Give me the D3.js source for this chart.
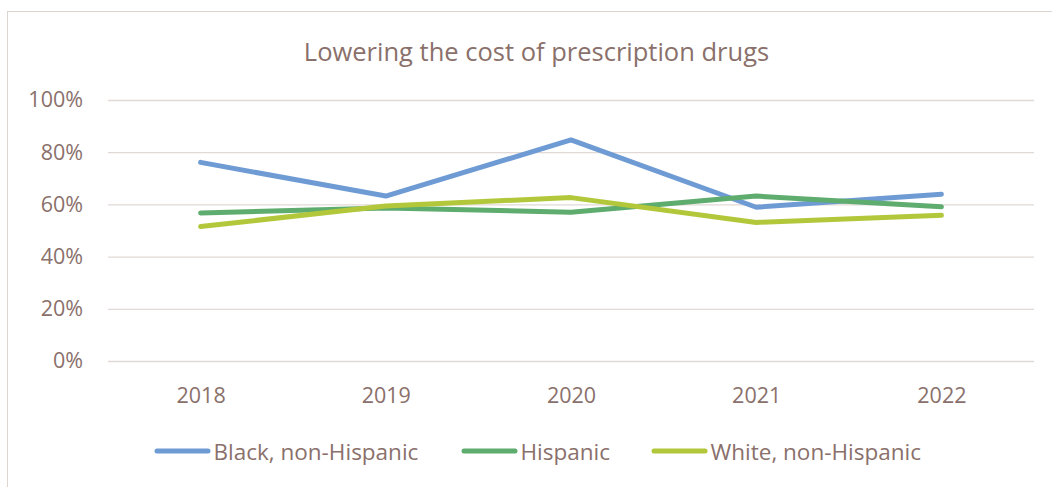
<!DOCTYPE html>
<html>
<head>
<meta charset="utf-8">
<script src="https://cdn.jsdelivr.net/npm/d3@7"></script>
<style>
  html, body { margin: 0; padding: 0; background: #ffffff; overflow: hidden; }
  svg { display: block; }
  text { font-family: "Open Sans", "Noto Sans", sans-serif; fill: #8a706b; }
</style>
</head>
<body>
<div id="chart"></div>
<script>
// Survey years on the x axis
const years = ["2018", "2019", "2020", "2021", "2022"];

// Share (%) by group per year
const black = [76.1, 63.2, 84.7, 58.9, 63.9];
const hispanic = [56.7, 58.6, 57.0, 63.2, 59.1];
const white = [51.5, 59.4, 62.6, 53.1, 55.8];

const seriesNames = ["Black, non-Hispanic", "Hispanic", "White, non-Hispanic"];
const seriesColors = ["#6f9bd4", "#5fac6f", "#b2c83a"];

// Y-axis ticks
const yTicks = [0, 20, 40, 60, 80, 100];

const title = "Lowering the cost of prescription drugs";

const W = 1052, H = 487;
const plot = { left: 108, right: 1034, top: 100, bottom: 361 };
const FONT = '"Open Sans", "Noto Sans", sans-serif';

const svg = d3.select("#chart").append("svg")
  .attr("width", W).attr("height", H);

// chart frame (right and bottom edges run past the canvas)
svg.append("rect")
  .attr("x", 7.5).attr("y", 11.5)
  .attr("width", 1100).attr("height", 600)
  .attr("fill", "#ffffff")
  .attr("stroke", "#dcd5d2").attr("stroke-width", 1);

const x = d3.scalePoint().domain(years)
  .range([plot.left, plot.right]).padding(0.5);
const y = d3.scaleLinear().domain([0, 100])
  .range([plot.bottom, plot.top]);

// gridlines + y labels
const yAxis = d3.axisLeft(y).tickValues(yTicks)
  .tickFormat(d => d + "%")
  .tickSize(-(plot.right - plot.left)).tickPadding(25);
const gy = svg.append("g")
  .attr("transform", `translate(${plot.left},0)`)
  .call(yAxis);
gy.select(".domain").remove();
gy.selectAll(".tick line").attr("stroke", "#e0d9d6").attr("stroke-width", 1.3);
gy.selectAll(".tick text")
  .attr("font-size", 21.5).attr("fill", "#8a706b")
  .style("font-family", FONT);

// x labels
const xAxis = d3.axisBottom(x).tickSize(0).tickPadding(27);
const gx = svg.append("g")
  .attr("transform", `translate(0,${plot.bottom})`)
  .call(xAxis);
gx.select(".domain").remove();
gx.selectAll(".tick text")
  .attr("font-size", 21.5).attr("fill", "#8a706b")
  .style("font-family", FONT);

// lines
const allSeries = [black, hispanic, white];
const line = d3.line()
  .x((d, i) => x(years[i]))
  .y(d => y(d));

allSeries.forEach((vals, k) => {
  svg.append("path")
    .datum(vals)
    .attr("d", line)
    .attr("fill", "none")
    .attr("stroke", seriesColors[k])
    .attr("stroke-width", 5)
    .attr("stroke-linecap", "round")
    .attr("stroke-linejoin", "round");
});

// title
svg.append("text")
  .attr("x", 536.5)
  .attr("y", 61)
  .attr("text-anchor", "middle")
  .attr("font-size", 25.5)
  .text(title);

// legend
const legendX = [157, 464, 654];
const legend = svg.append("g");
seriesNames.forEach((name, k) => {
  const g = legend.append("g").attr("transform", `translate(${legendX[k]},451)`);
  g.append("line")
    .attr("x1", 0).attr("x2", 51)
    .attr("stroke", seriesColors[k]).attr("stroke-width", 5)
    .attr("stroke-linecap", "round");
  g.append("text")
    .attr("x", 56.5).attr("y", 8.5)
    .attr("font-size", 22.5)
    .text(name);
});
</script>
</body>
</html>
